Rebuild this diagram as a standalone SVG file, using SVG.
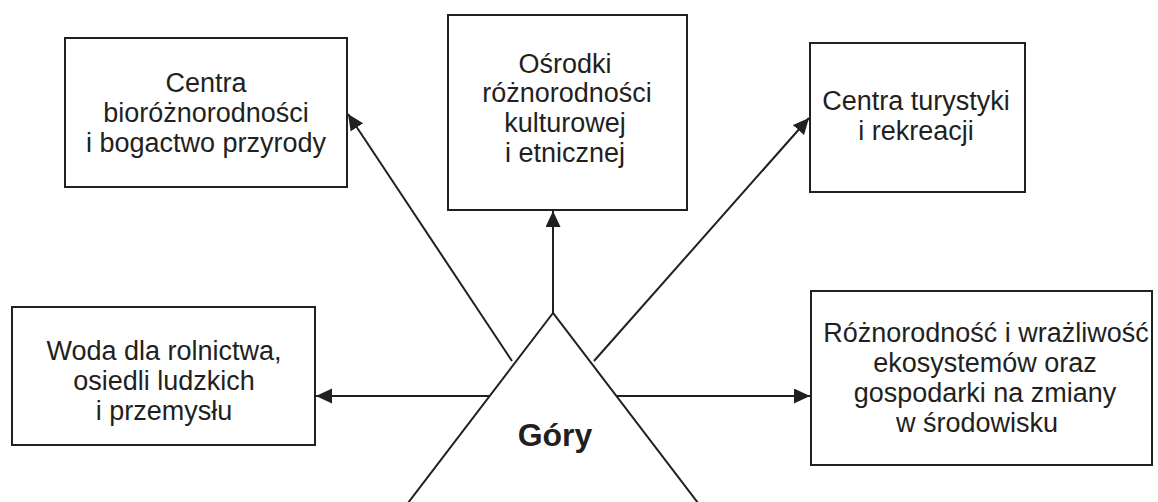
<svg xmlns="http://www.w3.org/2000/svg" width="1158" height="502" viewBox="0 0 1158 502">
  <style>
    .box { fill: #ffffff; stroke: #231f20; stroke-width: 2; }
    .lbl { font-family: "Liberation Sans", Arial, sans-serif; font-size: 27px; fill: #231f20; text-anchor: middle; }
    .title { font-family: "Liberation Sans", Arial, sans-serif; font-size: 32px; font-weight: bold; fill: #231f20; text-anchor: middle; }
    .conn { stroke: #231f20; stroke-width: 2; fill: none; }
  </style>
  <defs>
    <marker id="arrow" markerUnits="userSpaceOnUse" markerWidth="17" markerHeight="16" refX="16" refY="7.5" orient="auto">
      <path d="M0,0 L16,7.5 L0,15 Z" fill="#231f20"/>
    </marker>
  </defs>
  <rect width="1158" height="502" fill="#ffffff"/>

  <g id="connectors">
    <line class="conn" x1="553" y1="313" x2="553" y2="211" marker-end="url(#arrow)"/>
    <line class="conn" x1="512" y1="361" x2="348" y2="114" marker-end="url(#arrow)"/>
    <line class="conn" x1="594" y1="361" x2="809" y2="118" marker-end="url(#arrow)"/>
    <line class="conn" x1="490" y1="396" x2="316" y2="396" marker-end="url(#arrow)"/>
    <line class="conn" x1="615" y1="396" x2="810" y2="396" marker-end="url(#arrow)"/>
  </g>

  <g id="node-gory">
    <polygon class="box" points="553,313 395,520 711,520"/>
    <text class="title" x="555" y="446">Góry</text>
  </g>

  <g id="node-bioroznorodnosc">
    <rect class="box" x="65" y="38" width="282" height="149"/>
    <text class="lbl" x="206" y="92">Centra</text>
    <text class="lbl" x="206" y="122">bioróżnorodności</text>
    <text class="lbl" x="206" y="152">i bogactwo przyrody</text>
  </g>

  <g id="node-osrodki">
    <rect class="box" x="448" y="15" width="239" height="195"/>
    <text class="lbl" x="565" y="73">Ośrodki</text>
    <text class="lbl" x="567" y="102">różnorodności</text>
    <text class="lbl" x="565" y="132">kulturowej</text>
    <text class="lbl" x="565" y="162">i etnicznej</text>
  </g>

  <g id="node-turystyka">
    <rect class="box" x="810" y="43" width="215" height="149"/>
    <text class="lbl" x="916" y="110">Centra turystyki</text>
    <text class="lbl" x="916" y="140">i rekreacji</text>
  </g>

  <g id="node-woda">
    <rect class="box" x="12" y="307" width="303" height="138"/>
    <text class="lbl" x="164" y="360">Woda dla rolnictwa,</text>
    <text class="lbl" x="164" y="390">osiedli ludzkich</text>
    <text class="lbl" x="164" y="420">i przemysłu</text>
  </g>

  <g id="node-roznorodnosc">
    <rect class="box" x="811" y="291" width="341" height="174"/>
    <text class="lbl" x="986" y="342">Różnorodność i wrażliwość</text>
    <text class="lbl" x="985" y="372">ekosystemów oraz</text>
    <text class="lbl" x="985" y="402">gospodarki na zmiany</text>
    <text class="lbl" x="977" y="432">w środowisku</text>
  </g>
</svg>
